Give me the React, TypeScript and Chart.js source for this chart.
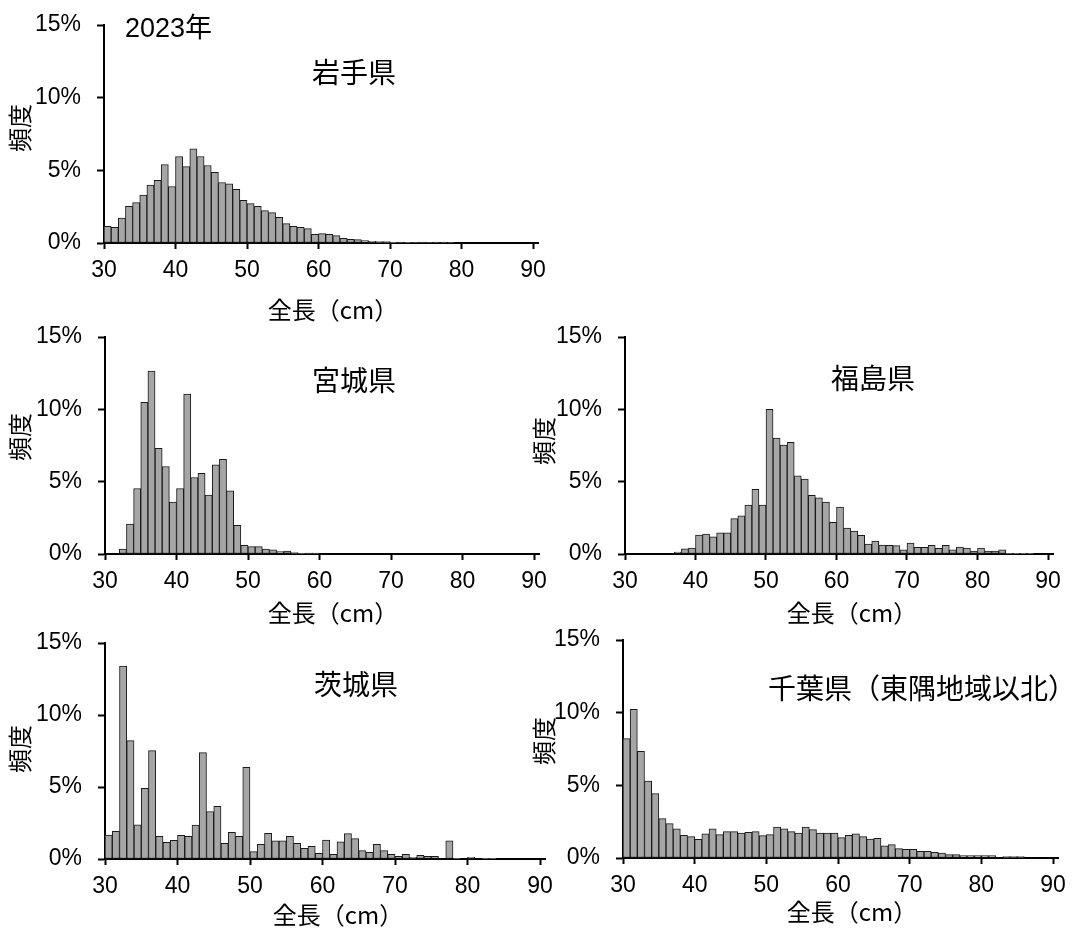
import React, { useEffect, useRef } from 'react';
import { Chart, registerables } from 'chart.js';

Chart.register(...registerables);

// Bin starts (cm); each bar covers [bin, bin+1)
const lengthBins = [
  30, 31, 32, 33, 34, 35, 36, 37, 38, 39,
  40, 41, 42, 43, 44, 45, 46, 47, 48, 49,
  50, 51, 52, 53, 54, 55, 56, 57, 58, 59,
  60, 61, 62, 63, 64, 65, 66, 67, 68, 69,
  70, 71, 72, 73, 74, 75, 76, 77, 78, 79,
  80, 81, 82, 83, 84, 85, 86, 87, 88, 89,
];

const xTickValues = [30, 40, 50, 60, 70, 80, 90];
const yTickValues = [0, 5, 10, 15];

// Frequency (%) per 1 cm bin
const iwate = [
  1.15, 1.08, 1.72, 2.53, 2.78, 3.29, 3.98, 4.32, 5.40, 3.89,
  5.95, 5.26, 6.48, 5.95, 5.33, 4.87, 4.16, 4.07, 3.70, 2.94,
  2.71, 2.53, 2.23, 2.09, 1.77, 1.33, 1.15, 1.08, 0.99, 0.60,
  0.64, 0.60, 0.51, 0.32, 0.25, 0.23, 0.16, 0.11, 0.09, 0.09,
  0.05, 0.07, 0.05, 0.03, 0.07, 0.03, 0.07, 0.07, 0.03, 0,
  0, 0, 0, 0, 0, 0, 0, 0, 0, 0,
];

const miyagi = [
  0, 0, 0.34, 2.07, 4.53, 10.48, 12.64, 7.31, 6.05, 3.59,
  4.53, 11.06, 5.29, 5.57, 4.07, 6.16, 6.55, 4.37, 1.98, 0.60,
  0.51, 0.51, 0.34, 0.28, 0.16, 0.21, 0.09, 0.05, 0.07, 0.07,
  0, 0, 0, 0, 0, 0, 0, 0, 0, 0,
  0, 0, 0, 0, 0, 0, 0, 0, 0, 0,
  0, 0, 0, 0, 0, 0, 0, 0, 0, 0,
];

const fukushima = [
  0, 0, 0, 0, 0, 0, 0, 0.14, 0.35, 0.41,
  1.31, 1.38, 1.18, 1.47, 1.47, 2.44, 2.63, 3.39, 4.47, 3.39,
  10.0, 8.02, 7.53, 7.72, 5.41, 5.18, 4.06, 3.89, 3.59, 2.19,
  3.25, 1.80, 1.59, 1.29, 0.69, 0.90, 0.62, 0.60, 0.58, 0.28,
  0.76, 0.46, 0.46, 0.60, 0.39, 0.60, 0.28, 0.48, 0.41, 0.21,
  0.41, 0.21, 0.21, 0.28, 0.05, 0.05, 0.05, 0.05, 0, 0,
];

const ibaraki = [
  1.66, 1.92, 13.4, 8.22, 2.38, 4.90, 7.53, 1.57, 1.15, 1.29,
  1.64, 1.57, 2.36, 7.39, 3.30, 3.65, 1.09, 1.85, 1.57, 6.37,
  0.51, 1.02, 1.78, 1.27, 1.27, 1.57, 1.09, 0.74, 0.88, 0.39,
  1.32, 0.32, 1.20, 1.76, 1.41, 0.58, 0.46, 1.02, 0.58, 0.32,
  0.18, 0.32, 0.12, 0.25, 0.18, 0.18, 0, 1.27, 0.05, 0,
  0.12, 0, 0.05, 0.05, 0, 0, 0, 0, 0, 0,
];

const chiba = [
  8.21, 10.23, 7.34, 5.30, 4.43, 2.71, 2.36, 2.00, 1.56, 1.47,
  1.28, 1.67, 2.00, 1.61, 1.81, 1.81, 1.72, 1.77, 1.81, 1.54,
  1.61, 2.13, 2.00, 1.81, 1.72, 2.13, 1.95, 1.72, 1.72, 1.72,
  1.40, 1.56, 1.67, 1.47, 1.31, 1.35, 0.83, 0.92, 0.64, 0.60,
  0.60, 0.46, 0.46, 0.39, 0.34, 0.23, 0.23, 0.16, 0.16, 0.16,
  0.16, 0.16, 0, 0.09, 0.09, 0.09, 0, 0, 0, 0,
];

const panelTitles = ['岩手県', '宮城県', '福島県', '茨城県', '千葉県（東隅地域以北）'];
const yearLabel = '2023年';
const xAxisTitle = '全長（cm）';
const yAxisTitle = '頻度';

type Layout = {
  area: [number, number, number, number]; // left, top(15%), right(90 tick), bottom(0%)
  title: [number, number];
  xTitle: [number, number];
  yTitle: [number, number];
  year?: [number, number];
};

const layouts: Layout[] = [
  { area: [104, 25, 533, 243], title: [354, 72], xTitle: [333, 310], yTitle: [20, 128], year: [125, 30] },
  { area: [105, 337, 534, 554], title: [354, 380], xTitle: [333, 613], yTitle: [20, 437] },
  { area: [625, 337, 1048, 554], title: [873, 378], xTitle: [852, 613], yTitle: [544, 441] },
  { area: [105, 643, 540, 859], title: [356, 684], xTitle: [338, 915], yTitle: [20, 749] },
  { area: [623, 640, 1053, 858], title: [922, 688], xTitle: [852, 912], yTitle: [544, 741] },
];

const seriesList = [iwate, miyagi, fukushima, ibaraki, chiba];

const PAD_L = 100;
const PAD_T = 36;
const PAD_R = 40;
const PAD_B = 90;
const Y_W = 80;
const X_H = 40;
const EXT = 5;

const latin = '"Liberation Sans", Arial, sans-serif';
const cjk = '"Noto Sans CJK JP", "Noto Sans", sans-serif';

function Panel({ idx }: { idx: number }) {
  const ref = useRef<HTMLCanvasElement | null>(null);
  const lay = layouts[idx];
  const [L, T, R, B] = lay.area;
  const cLeft = L - PAD_L;
  const cTop = T - PAD_T;
  const cW = R + EXT - L + PAD_L + PAD_R;
  const cH = B - T + PAD_T + PAD_B;

  useEffect(() => {
    if (!ref.current) return;
    const values = seriesList[idx];
    const xMax = 90 + (EXT * 60) / (R - L);
    const textPlugin = {
      id: 'panelText' + idx,
      afterDraw(chart: any) {
        const ctx = chart.ctx as CanvasRenderingContext2D;
        ctx.save();
        ctx.fillStyle = '#000';
        ctx.textBaseline = 'middle';
        ctx.font = `28px ${cjk}`;
        ctx.textAlign = 'center';
        ctx.fillText(panelTitles[idx], lay.title[0] - cLeft, lay.title[1] - cTop);
        ctx.font = `24px ${cjk}`;
        ctx.fillText(xAxisTitle, lay.xTitle[0] - cLeft, lay.xTitle[1] - cTop);
        ctx.save();
        ctx.translate(lay.yTitle[0] - cLeft, lay.yTitle[1] - cTop);
        ctx.rotate(-Math.PI / 2);
        ctx.font = `24px ${cjk}`;
        ctx.fillText(yAxisTitle, 0, 0);
        ctx.restore();
        if (lay.year) {
          ctx.textAlign = 'left';
          ctx.font = `27px "Liberation Sans", "Noto Sans CJK JP", sans-serif`;
          ctx.fillText(yearLabel, lay.year[0] - cLeft, lay.year[1] - cTop);
        }
        ctx.restore();
      },
    };

    const chart = new Chart(ref.current, {
      type: 'bar',
      data: {
        datasets: [
          {
            data: lengthBins.map((b, i) => ({ x: b + 0.5, y: values[i] })),
            backgroundColor: '#a6a6a6',
            borderColor: '#1a1a1a',
            borderWidth: 1,
            borderSkipped: false,
            barPercentage: 1,
            categoryPercentage: 1,
          },
        ],
      },
      options: {
        animation: false,
        responsive: false,
        maintainAspectRatio: false,
        events: [],
        layout: { padding: { left: PAD_L - Y_W, top: PAD_T, right: PAD_R, bottom: PAD_B - X_H } },
        plugins: { legend: { display: false }, tooltip: { enabled: false }, title: { display: false } },
        scales: {
          x: {
            type: 'linear',
            min: 30,
            max: xMax,
            offset: false,
            afterFit: (s: any) => { s.height = X_H; },
            afterBuildTicks: (s: any) => { s.ticks = xTickValues.map((v) => ({ value: v })); },
            ticks: {
              color: '#000',
              font: { family: latin, size: 23 },
              padding: 8,
              maxRotation: 0,
              autoSkip: false,
            },
            grid: {
              display: true,
              offset: false,
              drawOnChartArea: false,
              drawTicks: true,
              tickLength: 6,
              tickWidth: 2,
              tickColor: '#000',
            },
            border: { display: true, color: '#000', width: 2 },
          },
          y: {
            type: 'linear',
            min: 0,
            max: 15,
            afterFit: (s: any) => { s.width = Y_W; },
            afterBuildTicks: (s: any) => { s.ticks = yTickValues.map((v) => ({ value: v })); },
            ticks: {
              color: '#000',
              font: { family: latin, size: 23 },
              padding: 16,
              callback: (v: any) => `${v}%`,
            },
            grid: {
              display: true,
              drawOnChartArea: false,
              drawTicks: true,
              tickLength: 7,
              tickWidth: 2,
              tickColor: '#000',
            },
            border: { display: true, color: '#000', width: 2 },
          },
        },
      },
      plugins: [textPlugin],
    } as any);
    return () => chart.destroy();
  }, [idx]);

  return (
    <canvas
      ref={ref}
      width={cW}
      height={cH}
      style={{ position: 'absolute', left: cLeft, top: cTop, width: cW, height: cH }}
    />
  );
}

export default function App() {
  return (
    <div style={{ position: 'absolute', left: 0, top: 0, width: 1073, height: 935, background: '#fff', overflow: 'hidden' }}>
      {layouts.map((_, i) => (
        <Panel key={i} idx={i} />
      ))}
    </div>
  );
}
